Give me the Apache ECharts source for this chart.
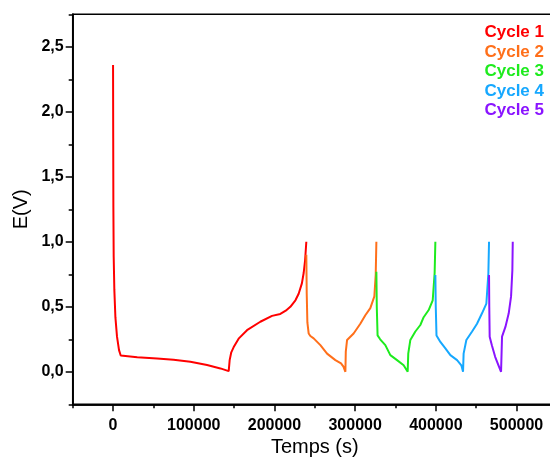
<!DOCTYPE html>
<html>
<head>
<meta charset="utf-8">
<script src="https://cdn.jsdelivr.net/npm/echarts@6/dist/echarts.min.js"></script>
<style>html,body{margin:0;padding:0;background:#fff}#c{width:550px;height:458px}</style>
</head>
<body>
<div id="c"></div>
<script>
const cycleNames = ['Cycle 1', 'Cycle 2', 'Cycle 3', 'Cycle 4', 'Cycle 5'];
const cycleColors = ['#FF0000', '#FF6F1A', '#1EEB1E', '#16A8FF', '#8A14FF'];

const t1 = [0, 200, 400, 800, 1600, 2900, 4900, 7400, 9500, 11150, 30000, 54500, 75000, 95800, 116500, 133000, 143300,
  144500, 146500, 149500, 155600, 166000, 182500, 197000, 207300, 214000, 219700, 226000, 230000, 234000, 236200, 238000, 239500];
const e1 = [2.36, 1.8, 1.27, 0.885, 0.63, 0.42, 0.27, 0.167, 0.125, 0.115, 0.112, 0.103, 0.092, 0.077, 0.052, 0.026, 0.005,
  0.09, 0.15, 0.19, 0.255, 0.32, 0.385, 0.43, 0.445, 0.47, 0.5, 0.55, 0.6, 0.68, 0.76, 0.86, 1.0];

const t2 = [239500, 240000, 240800, 242400, 244500, 248600, 256900, 265200, 275500, 282500, 285500, 287900,
  288400, 290000, 298100, 306400, 312600, 318800, 323800, 325500, 326300];
const e2 = [0.9, 0.6, 0.38, 0.295, 0.275, 0.257, 0.205, 0.14, 0.09, 0.065, 0.04, 0.0,
  0.155, 0.245, 0.295, 0.37, 0.435, 0.49, 0.58, 0.75, 1.0];

const t3 = [326300, 326800, 327800, 331000, 337400, 343600, 351900, 360100, 365100,
  365800, 368400, 374600, 380800, 384900, 391100, 396100, 398500, 399400];
const e3 = [0.77, 0.5, 0.28, 0.25, 0.205, 0.128, 0.09, 0.05, 0.0,
  0.14, 0.245, 0.31, 0.36, 0.42, 0.475, 0.55, 0.76, 1.0];

const t4 = [399400, 399900, 400800, 405600, 411800, 418000, 426300, 431600, 433700,
  434400, 437800, 444900, 451000, 457200, 462600, 465100, 465900];
const e4 = [0.745, 0.5, 0.28, 0.23, 0.18, 0.128, 0.09, 0.05, 0.0,
  0.14, 0.245, 0.31, 0.37, 0.45, 0.525, 0.76, 1.0];

const t5 = [465900, 466200, 466700, 469400, 473500, 477600, 480800,
  482000, 486200, 490300, 493200, 494800, 495300];
const e5 = [0.745, 0.5, 0.27, 0.205, 0.115, 0.05, 0.0,
  0.27, 0.345, 0.45, 0.58, 0.78, 1.0];

const xTickLabels = [0, 100000, 200000, 300000, 400000, 500000];
const yTickLabels = [0, 0.5, 1.0, 1.5, 2.0, 2.5];

const times = [t1, t2, t3, t4, t5];
const volts = [e1, e2, e3, e4, e5];

const FONT = 'Liberation Sans, Arial, sans-serif';
const chart = echarts.init(document.getElementById('c'), null, {renderer: 'canvas'});

const series = cycleNames.map((n, i) => ({
  name: n,
  type: 'line',
  showSymbol: false,
  symbol: 'none',
  xAxisIndex: 0,
  yAxisIndex: 0,
  lineStyle: {color: cycleColors[i], width: 2},
  itemStyle: {color: cycleColors[i]},
  data: times[i].map((t, k) => [t, volts[i][k]]),
  z: 2 + i
}));

const axisLineStyle = {show: true, onZero: false, lineStyle: {color: '#000', width: 1.5}};

chart.setOption({
  animation: false,
  backgroundColor: '#fff',
  grid: {left: 72.7, top: 14.3, width: 484.2, height: 390, show: true, borderColor: '#000', borderWidth: 1.5,
    backgroundColor: 'transparent', containLabel: false, outerBoundsMode: 'none'},
  legend: {
    orient: 'vertical', right: 1, top: 22.5, padding: 0, itemGap: 0,
    icon: 'none', itemWidth: 0, itemHeight: 0, align: 'right',
    selectedMode: false,
    textStyle: {fontFamily: FONT, fontWeight: 'bold', fontSize: 17, lineHeight: 19.6},
    data: cycleNames.map((n, i) => ({name: n, textStyle: {color: cycleColors[i]}}))
  },
  xAxis: [
    {
      type: 'value', position: 'bottom', min: -50000, max: 550000, interval: 50000,
      name: 'Temps (s)', nameLocation: 'middle', nameGap: 33,
      nameTextStyle: {fontFamily: FONT, fontSize: 20, color: '#000'},
      axisLine: axisLineStyle,
      axisTick: {show: true, length: 4, lineStyle: {color: '#000', width: 1.5}},
      axisLabel: {show: false},
      splitLine: {show: false}
    },
    {
      type: 'value', position: 'bottom', min: -50000, max: 550000,
      axisLine: axisLineStyle,
      axisTick: {show: true, length: 7, customValues: xTickLabels, lineStyle: {color: '#000', width: 1.5}},
      axisLabel: {show: true, customValues: xTickLabels, margin: 13, fontFamily: FONT, fontWeight: 'bold', fontSize: 16, color: '#000',
        formatter: v => String(v)},
      splitLine: {show: false}
    }
  ],
  yAxis: [
    {
      type: 'value', position: 'left', min: -0.25, max: 2.75, interval: 0.25,
      name: 'E(V)', nameLocation: 'middle', nameGap: 41, nameRotate: 90,
      nameTextStyle: {fontFamily: FONT, fontSize: 20, color: '#000'},
      axisLine: axisLineStyle,
      axisTick: {show: true, length: 4, lineStyle: {color: '#000', width: 1.5}},
      axisLabel: {show: false},
      splitLine: {show: false}
    },
    {
      type: 'value', position: 'left', min: -0.25, max: 2.75,
      axisLine: axisLineStyle,
      axisTick: {show: true, length: 7, customValues: yTickLabels, lineStyle: {color: '#000', width: 1.5}},
      axisLabel: {show: true, customValues: yTickLabels, margin: 9, fontFamily: FONT, fontWeight: 'bold', fontSize: 16, color: '#000',
        formatter: v => v.toFixed(1).replace('.', ',')},
      splitLine: {show: false}
    }
  ],
  series: series
});
</script>
</body>
</html>
